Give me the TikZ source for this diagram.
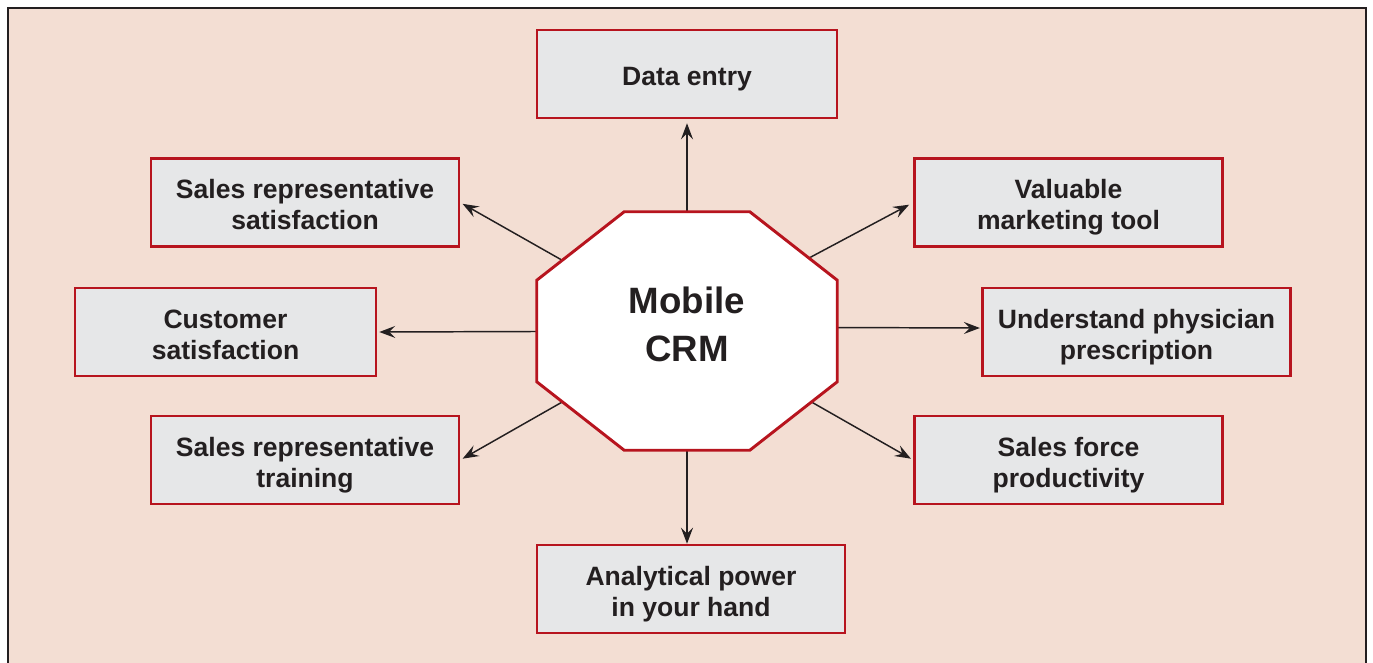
\documentclass[tikz,border=0pt]{standalone}
\usepackage{fontspec}
\setmainfont{Liberation Sans}
\usetikzlibrary{%
	arrows.meta,%
	calc%
}
\definecolor{crm-red}{RGB}{183,20,30}
\definecolor{crm-ink}{RGB}{35,31,32}
\definecolor{crm-paper}{RGB}{243,222,211}
\definecolor{crm-gray}{RGB}{230,231,232}

\begin{document}
\begin{tikzpicture}[x=0.75pt,y=-0.75pt,
		box/.style={draw=crm-red,fill=crm-gray,line width=1.9pt,inner sep=0pt,
			minimum width=231pt,minimum height=66pt,align=center,text=crm-ink,
			text height=40.6pt,text depth=0pt,
			font=\fontsize{19.9}{23.25}\selectfont\bfseries},
		hub/.style={inner sep=0pt,minimum width=225pt,minimum height=178.5pt},
		hubtext/.style={align=center,text=crm-ink,
			font=\fontsize{27.5}{35.5}\selectfont\bfseries},
		link/.style={draw=crm-ink,line width=1.1pt,
			-{Stealth[length=12pt,width=9pt,inset=4.5pt]}}
	]
		\useasboundingbox (0,0) rectangle (1373,662);
		\clip (0,0) rectangle (1373,662);

		% Panel
		\draw[crm-ink,line width=2pt,fill=crm-paper] (8,8) rectangle (1366,700);

		% Hub area (the octagon is painted over the arrow tails later)
		\node[hub] (crm) at (687,331) {};

		% Boxes round the hub
		\node[box,minimum width=225pt,text height=17.3pt] (entry) at (687,74) {Data entry};
		\node[box] (repsat) at (305,202.5) {Sales representative\\satisfaction};
		\node[box] (marketing) at (1068.5,202.5) {Valuable\\marketing tool};
		\node[box,minimum width=225.75pt] (customer) at (225.5,332) {Customer\\satisfaction};
		\node[box] (physician) at (1136.5,332) {Understand physician\\prescription};
		\node[box] (reptrain) at (305,460) {Sales representative\\training};
		\node[box] (productivity) at (1068.5,460) {Sales force\\productivity};
		\node[box] (power) at (691,589) {Analytical power\\in your hand};

		% Arrows out of the hub
		\draw[link,shorten >=3pt] (crm.center) -- (entry.south);
		\draw[link,shorten >=2pt] (crm.center) -- (repsat.east);
		\draw[link,shorten >=3.5pt] ([yshift=6pt]crm.center) -- (marketing.west);
		\draw[link,shorten >=1.5pt] (crm.center) -- (customer.east);
		\draw[link,shorten >=1pt] ([yshift=3pt]crm.center) -- ([yshift=3pt]physician.west);
		\draw[link,shorten >=2pt] (crm.center) -- (reptrain.east);
		\draw[link,shorten >=2pt] (crm.center) -- (productivity.west);
		\draw[link] (crm.center) -- (crm.center |- power.north);

		% Octagon
		\filldraw[draw=crm-red,fill=white,line width=2.2pt,line join=miter]
			($(crm.north west)+(87.5,0)$) -- ($(crm.north east)+(-87.5,0)$)
			-- ($(crm.north east)+(0,68.5)$) -- ($(crm.south east)+(0,-68.5)$)
			-- ($(crm.south east)+(-87.5,0)$) -- ($(crm.south west)+(87.5,0)$)
			-- ($(crm.south west)+(0,-68.5)$) -- ($(crm.north west)+(0,68.5)$)
			-- cycle;
		\node[hubtext] (crmlabel) at ([yshift=5pt]crm.center) {Mobile\\CRM};
	\end{tikzpicture}
\end{document}
